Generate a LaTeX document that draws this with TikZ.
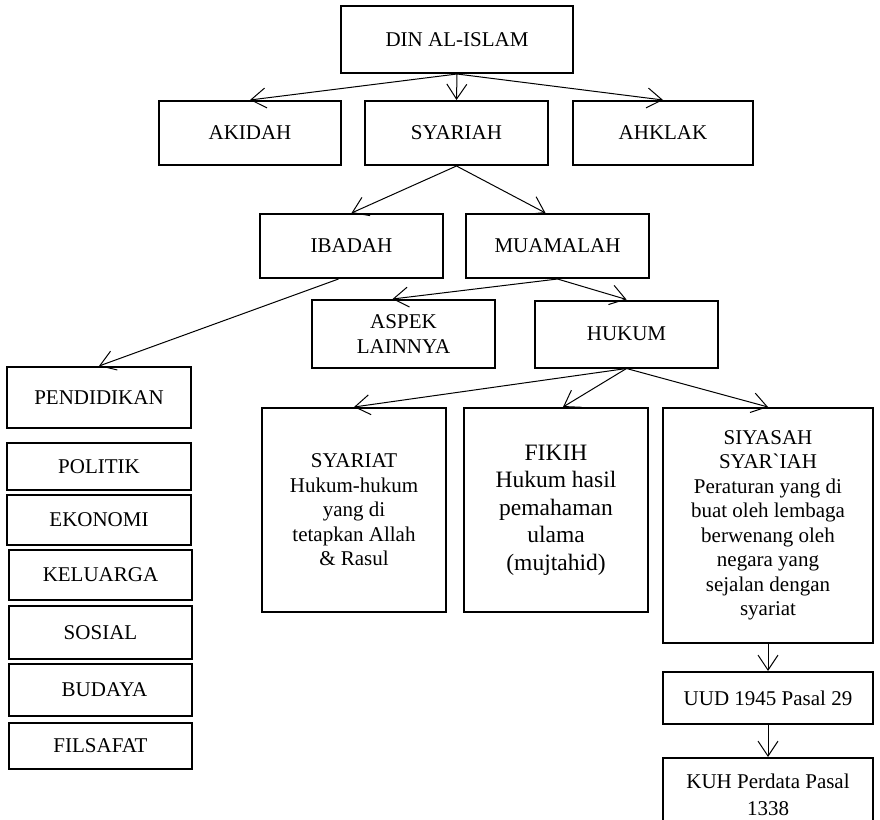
\documentclass[tikz,border=0pt]{standalone}
\usepackage{tikz,pgf}
\usepackage{fontspec}
\setmainfont{Liberation Serif}
\usetikzlibrary{arrows.meta}

\begin{document}
\begin{tikzpicture}[
  x=1pt, y=-1pt,
  every node/.style={align=center, inner sep=0pt, font=\fontsize{21}{24.5}\selectfont}
]
\tikzstyle{kotak}=[draw, line width=2pt, minimum width=183pt, minimum height=64pt]
\tikzstyle{samping}=[kotak, minimum width=184pt]
\tikzstyle{panah}=[line width=1pt, -{Straight Barb[length=15pt,width=20pt]}]

\useasboundingbox (0,0) rectangle (880,819);
\clip (0,0) rectangle (880,819);

\node[kotak, minimum width=232pt, minimum height=67pt] (din) at (457,39.5) {DIN AL-ISLAM};

\node[kotak, minimum width=182pt] (akidah) at (250,133) {AKIDAH};
\node[kotak] (syariah) at (456.5,133) {SYARIAH};
\node[kotak, minimum width=180pt] (akhlak) at (663,133) {AHKLAK};

\node[kotak] (ibadah) at (351.5,246) {IBADAH};
\node[kotak] (muamalah) at (557.5,246) {MUAMALAH};

\node[kotak, minimum height=68pt] (aspek) at (403.5,334) {ASPEK\\LAINNYA};
\node[kotak, minimum height=67pt] (hukum) at (626.5,334) {HUKUM};

\node[kotak, minimum width=184pt, minimum height=204pt] (syariat) at (354,510)
  {SYARIAT\\Hukum-hukum\\yang di\\tetapkan Allah\\\& Rasul};
\node[kotak, minimum width=184pt, minimum height=204pt,
  font=\fontsize{23.5}{27.5}\selectfont] (fikih) at (556,510)
  {FIKIH\\Hukum hasil\\pemahaman\\ulama\\(mujtahid)};
\node[kotak, minimum width=210pt, minimum height=235pt] (siyasah) at (768,525.5)
  {SIYASAH\\SYAR\textasciigrave IAH\\Peraturan yang di\\buat oleh lembaga\\berwenang oleh\\negara yang\\sejalan dengan\\syariat};
\node[kotak, minimum width=210pt, minimum height=52pt] (uud) at (768,698) {UUD 1945 Pasal 29};
\node[kotak, minimum width=210pt, minimum height=74pt, anchor=north,
  font=\fontsize{21}{27}\selectfont] (kuh) at (768,757)
  {KUH Perdata Pasal\\1338};

\node[samping, minimum height=61pt] (pendidikan) at (99,397.5) {PENDIDIKAN};
\node[samping, minimum height=47pt] (politik) at (99,466.5) {POLITIK};
\node[samping, minimum height=50pt] (ekonomi) at (99,520) {EKONOMI};
\node[kotak, minimum height=50pt] (keluarga) at (100.5,575) {KELUARGA};
\node[kotak, minimum height=53pt] (sosial) at (100.5,632.5) {SOSIAL};
\node[kotak, minimum height=52pt] (budaya) at (100.5,690) {\hspace{8pt}BUDAYA};
\node[kotak, minimum height=46pt] (filsafat) at (100.5,746) {FILSAFAT};

\draw[panah] (din.south) -- (akidah.north);
\draw[panah] (din.south) -- (syariah.north);
\draw[panah] (din.south) -- (akhlak.north);
\draw[panah] (syariah.south) -- (ibadah.north);
\draw[panah] (syariah.south) -- ([xshift=-12pt]muamalah.north);
\draw[panah] ([xshift=-13pt]ibadah.south) -- (pendidikan.north);
\draw[panah] (muamalah.south) -- ([xshift=-11pt]aspek.north);
\draw[panah] (muamalah.south) -- (hukum.north);
\draw[panah] (hukum.south) -- (syariat.north);
\draw[panah] (hukum.south) -- ([xshift=7pt]fikih.north);
\draw[panah] (hukum.south) -- (siyasah.north);
\draw[panah] (siyasah.south) -- (uud.north);
\draw[panah] (uud.south) -- (kuh.north);
\end{tikzpicture}
\end{document}
